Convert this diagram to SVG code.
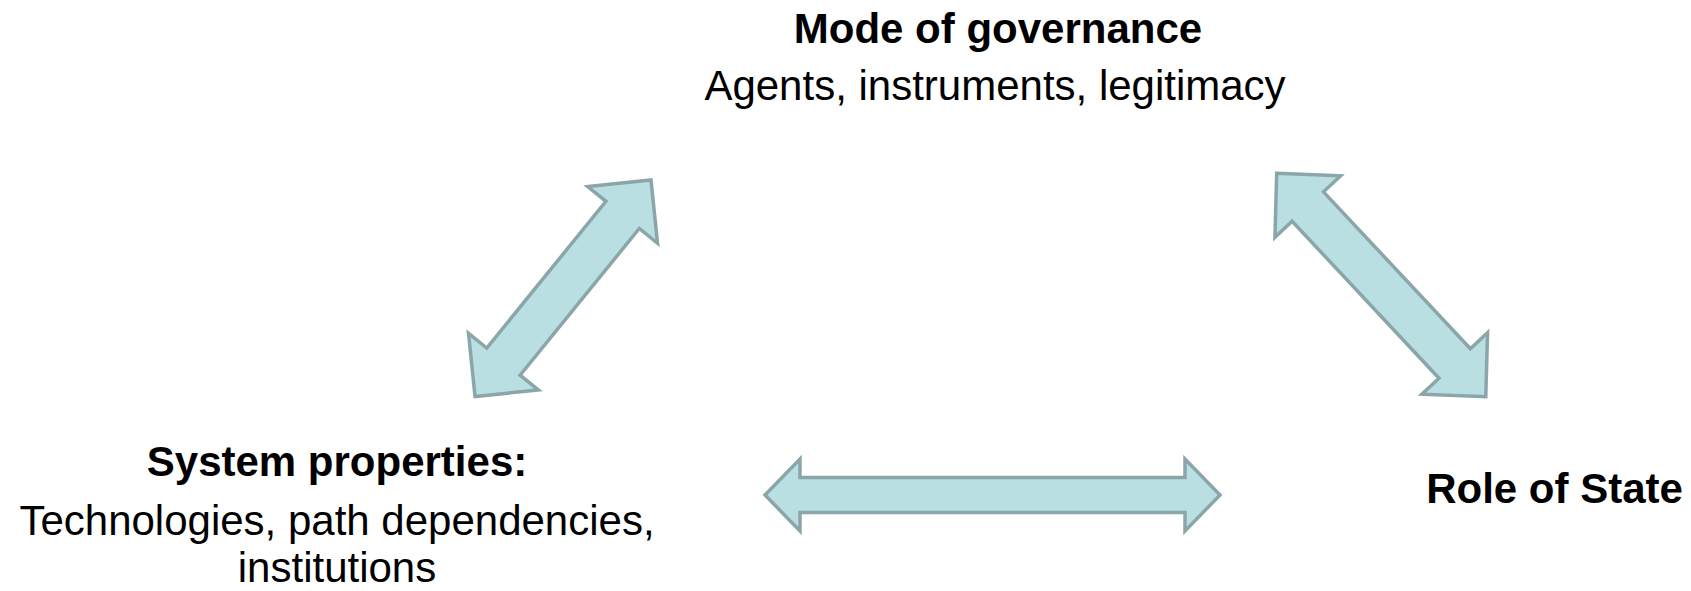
<svg xmlns="http://www.w3.org/2000/svg" width="1691" height="591" viewBox="0 0 1691 591">
  <style>
    .lbl { font-family: "Liberation Sans", Arial, sans-serif; font-size: 42px; fill: #000; text-anchor: middle; }
    .b { font-weight: bold; }
    .arrow { fill: #B9DFE2; stroke: #8BA6A9; stroke-width: 3.5; stroke-linejoin: miter; }
  </style>
  <rect width="1691" height="591" fill="#FFFFFF"/>

  <g id="mode-of-governance">
    <text class="lbl b" x="998" y="43">Mode of governance</text>
    <text class="lbl" x="995" y="100">Agents, instruments, legitimacy</text>
  </g>

  <g id="system-properties">
    <text class="lbl b" x="337" y="476">System properties:</text>
    <text class="lbl" x="337" y="535">Technologies, path dependencies,</text>
    <text class="lbl" x="337" y="582">institutions</text>
  </g>

  <g id="role-of-state">
    <text class="lbl b" x="1554.5" y="503">Role of State</text>
  </g>

  <!-- double-headed block arrows linking the three nodes -->
  <g id="connectors">
    <polygon class="arrow" transform="translate(651,180) rotate(129.1)"
      points="0,0 45,-45 45,-21.5 234,-21.5 234,-45 279,0 234,45 234,21.5 45,21.5 45,45"/>
    <polygon class="arrow" transform="translate(1276.7,173.3) rotate(46.9)"
      points="0,0 45.5,-45 45.5,-21.5 260.5,-21.5 260.5,-45 306,0 260.5,45 260.5,21.5 45.5,21.5 45.5,45"/>
    <polygon class="arrow" transform="translate(765,495)"
      points="0,0 35,-36 35,-17.5 420,-17.5 420,-36 455,0 420,36 420,17.5 35,17.5 35,36"/>
  </g>
</svg>
